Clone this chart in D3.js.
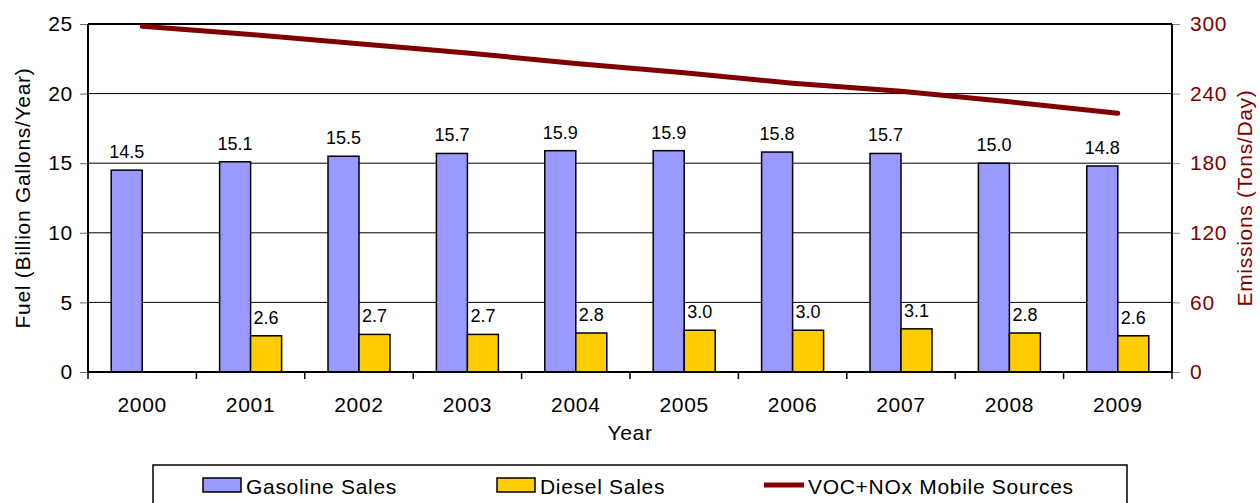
<!DOCTYPE html>
<html>
<head>
<meta charset="utf-8">
<script src="https://cdn.jsdelivr.net/npm/d3@7"></script>
<style>
  body { margin: 0; background: #fff; }
  svg { font-family: "Liberation Sans", Arial, sans-serif; }
  .big { font-size: 21px; letter-spacing: 0.7px; }
</style>
</head>
<body>
<svg width="1260" height="503"></svg>
<script>
// data
var years = ["2000", "2001", "2002", "2003", "2004", "2005", "2006", "2007", "2008", "2009"];
var gasoline = [14.5, 15.1, 15.5, 15.7, 15.9, 15.9, 15.8, 15.7, 15.0, 14.8];
var diesel = [null, 2.6, 2.7, 2.7, 2.8, 3.0, 3.0, 3.1, 2.8, 2.6];
var emissions = [298, 291, 283, 275, 266, 258, 249, 242, 233, 223];
var fuelTicks = [0, 5, 10, 15, 20, 25];
var emisTicks = [0, 60, 120, 180, 240, 300];
var seriesNames = ["Gasoline Sales", "Diesel Sales", "VOC+NOx Mobile Sources"];

var gasColor = "#9999ff", dieselColor = "#ffcc00", lineColor = "#800000";

var svg = d3.select("svg");
var plotL = 88, plotR = 1172, plotT = 24, plotB = 372;

var x = d3.scaleBand().domain(years).range([plotL, plotR]);
var barW = 31;
var yFuel = d3.scaleLinear().domain([0, 25]).range([plotB, plotT]);
var yEm = d3.scaleLinear().domain([0, 300]).range([plotB, plotT]);

// gridlines
svg.selectAll("line.grid")
   .data(fuelTicks.slice(1, -1))
   .enter()
   .append("line")
   .attr("class", "grid")
   .attr("x1", plotL).attr("x2", plotR)
   .attr("y1", function(d) { return yFuel(d); })
   .attr("y2", function(d) { return yFuel(d); })
   .attr("stroke", "#000").attr("stroke-width", 1);

// left axis
var gLeft = svg.append("g")
   .attr("transform", "translate(" + plotL + ",0)")
   .call(d3.axisLeft(yFuel).tickValues(fuelTicks).tickSize(8).tickPadding(7));
gLeft.select(".domain").remove();
gLeft.selectAll(".tick line").attr("stroke", "#666");
gLeft.selectAll("text").attr("class", "big").attr("fill", "#000")
   .attr("font-size", null).attr("font-family", null);
gLeft.attr("font-size", null).attr("font-family", null);

// right axis
var gRight = svg.append("g")
   .attr("transform", "translate(" + plotR + ",0)")
   .call(d3.axisRight(yEm).tickValues(emisTicks).tickSize(8).tickPadding(10));
gRight.select(".domain").remove();
gRight.selectAll(".tick line").attr("stroke", "#888");
gRight.selectAll("text").attr("class", "big").attr("fill", lineColor);
gRight.attr("font-size", null).attr("font-family", null);

// bottom axis, ticks sit on the band edges
var gBottom = svg.append("g")
   .attr("transform", "translate(0," + plotB + ")")
   .call(d3.axisBottom(x).tickSize(0).tickPadding(25));
gBottom.select(".domain").remove();
gBottom.selectAll("text").attr("class", "big").attr("fill", "#000");
gBottom.attr("font-size", null).attr("font-family", null);

var edges = d3.range(years.length + 1).map(function(i) { return plotL + x.step() * i; });
svg.selectAll("line.xtick")
   .data(edges)
   .enter()
   .append("line")
   .attr("class", "xtick")
   .attr("x1", function(d) { return d; })
   .attr("x2", function(d) { return d; })
   .attr("y1", plotB).attr("y2", plotB + 7)
   .attr("stroke", "#000").attr("stroke-width", 1.5);

// bars
svg.selectAll("rect.gas")
   .data(gasoline)
   .enter()
   .append("rect")
   .attr("class", "gas")
   .attr("x", function(d, i) { return x(years[i]) + x.bandwidth() / 2 - barW; })
   .attr("y", function(d) { return yFuel(d); })
   .attr("width", barW)
   .attr("height", function(d) { return plotB - yFuel(d); })
   .attr("fill", gasColor).attr("stroke", "#000").attr("stroke-width", 1.5);

var dieselData = diesel.map(function(d, i) { return { year: years[i], v: d }; })
   .filter(function(d) { return d.v != null; });

svg.selectAll("rect.diesel")
   .data(dieselData)
   .enter()
   .append("rect")
   .attr("class", "diesel")
   .attr("x", function(d) { return x(d.year) + x.bandwidth() / 2; })
   .attr("y", function(d) { return yFuel(d.v); })
   .attr("width", barW)
   .attr("height", function(d) { return plotB - yFuel(d.v); })
   .attr("fill", dieselColor).attr("stroke", "#000").attr("stroke-width", 1.5);

// value labels
svg.selectAll("text.gasLabel")
   .data(gasoline)
   .enter()
   .append("text")
   .attr("class", "gasLabel")
   .attr("x", function(d, i) { return x(years[i]) + x.bandwidth() / 2 - barW / 2; })
   .attr("y", function(d) { return yFuel(d) - 12; })
   .attr("text-anchor", "middle")
   .attr("font-size", 18)
   .text(function(d) { return d.toFixed(1); });

svg.selectAll("text.dieselLabel")
   .data(dieselData)
   .enter()
   .append("text")
   .attr("class", "dieselLabel")
   .attr("x", function(d) { return x(d.year) + x.bandwidth() / 2 + barW / 2; })
   .attr("y", function(d) { return yFuel(d.v) - 12; })
   .attr("text-anchor", "middle")
   .attr("font-size", 18)
   .text(function(d) { return d.v.toFixed(1); });

// plot frame
[[plotL, plotT, plotR, plotT], [plotL, plotB, plotR, plotB],
 [plotL, plotT, plotL, plotB], [plotR, plotT, plotR, plotB]].forEach(function(s) {
   svg.append("line")
      .attr("x1", s[0]).attr("y1", s[1]).attr("x2", s[2]).attr("y2", s[3])
      .attr("stroke", "#000").attr("stroke-width", 2);
});

// emissions line
var line = d3.line()
   .x(function(d, i) { return x(years[i]) + x.bandwidth() / 2; })
   .y(function(d) { return yEm(d); });
svg.append("path")
   .datum(emissions)
   .attr("d", line)
   .attr("fill", "none")
   .attr("stroke", lineColor)
   .attr("stroke-width", 5)
   .attr("stroke-linecap", "round")
   .attr("stroke-linejoin", "round");

// axis titles
svg.append("text")
   .attr("class", "big")
   .attr("transform", "translate(30," + (plotT + plotB) / 2 + ") rotate(-90)")
   .attr("text-anchor", "middle")
   .text("Fuel (Billion Gallons/Year)");
svg.append("text")
   .attr("class", "big")
   .attr("transform", "translate(1252," + (plotT + plotB) / 2 + ") rotate(-90)")
   .attr("text-anchor", "middle")
   .attr("fill", lineColor)
   .text("Emissions (Tons/Day)");
svg.append("text")
   .attr("class", "big")
   .attr("x", (plotL + plotR) / 2)
   .attr("y", 440)
   .attr("text-anchor", "middle")
   .text("Year");

// legend
svg.append("rect")
   .attr("x", 153).attr("y", 465).attr("width", 974).attr("height", 60)
   .attr("fill", "#fff").attr("stroke", "#000").attr("stroke-width", 1.5);
var legendX = [203, 497, 764];
var legend = svg.selectAll("g.leg")
   .data(seriesNames)
   .enter()
   .append("g")
   .attr("class", "leg")
   .attr("transform", function(d, i) { return "translate(" + legendX[i] + ",478)"; });
legend.each(function(d, i) {
   var g = d3.select(this);
   if (i < 2) {
      g.append("rect").attr("x", 0).attr("y", 0).attr("width", 38).attr("height", 14)
         .attr("fill", i == 0 ? gasColor : dieselColor)
         .attr("stroke", "#000").attr("stroke-width", 1.5);
   } else {
      g.append("line").attr("x1", 0).attr("x2", 40).attr("y1", 7).attr("y2", 7)
         .attr("stroke", lineColor).attr("stroke-width", 5);
   }
   g.append("text").attr("class", "big").attr("x", i < 2 ? 43 : 44).attr("y", 15.5).text(d);
});
</script>
</body>
</html>
